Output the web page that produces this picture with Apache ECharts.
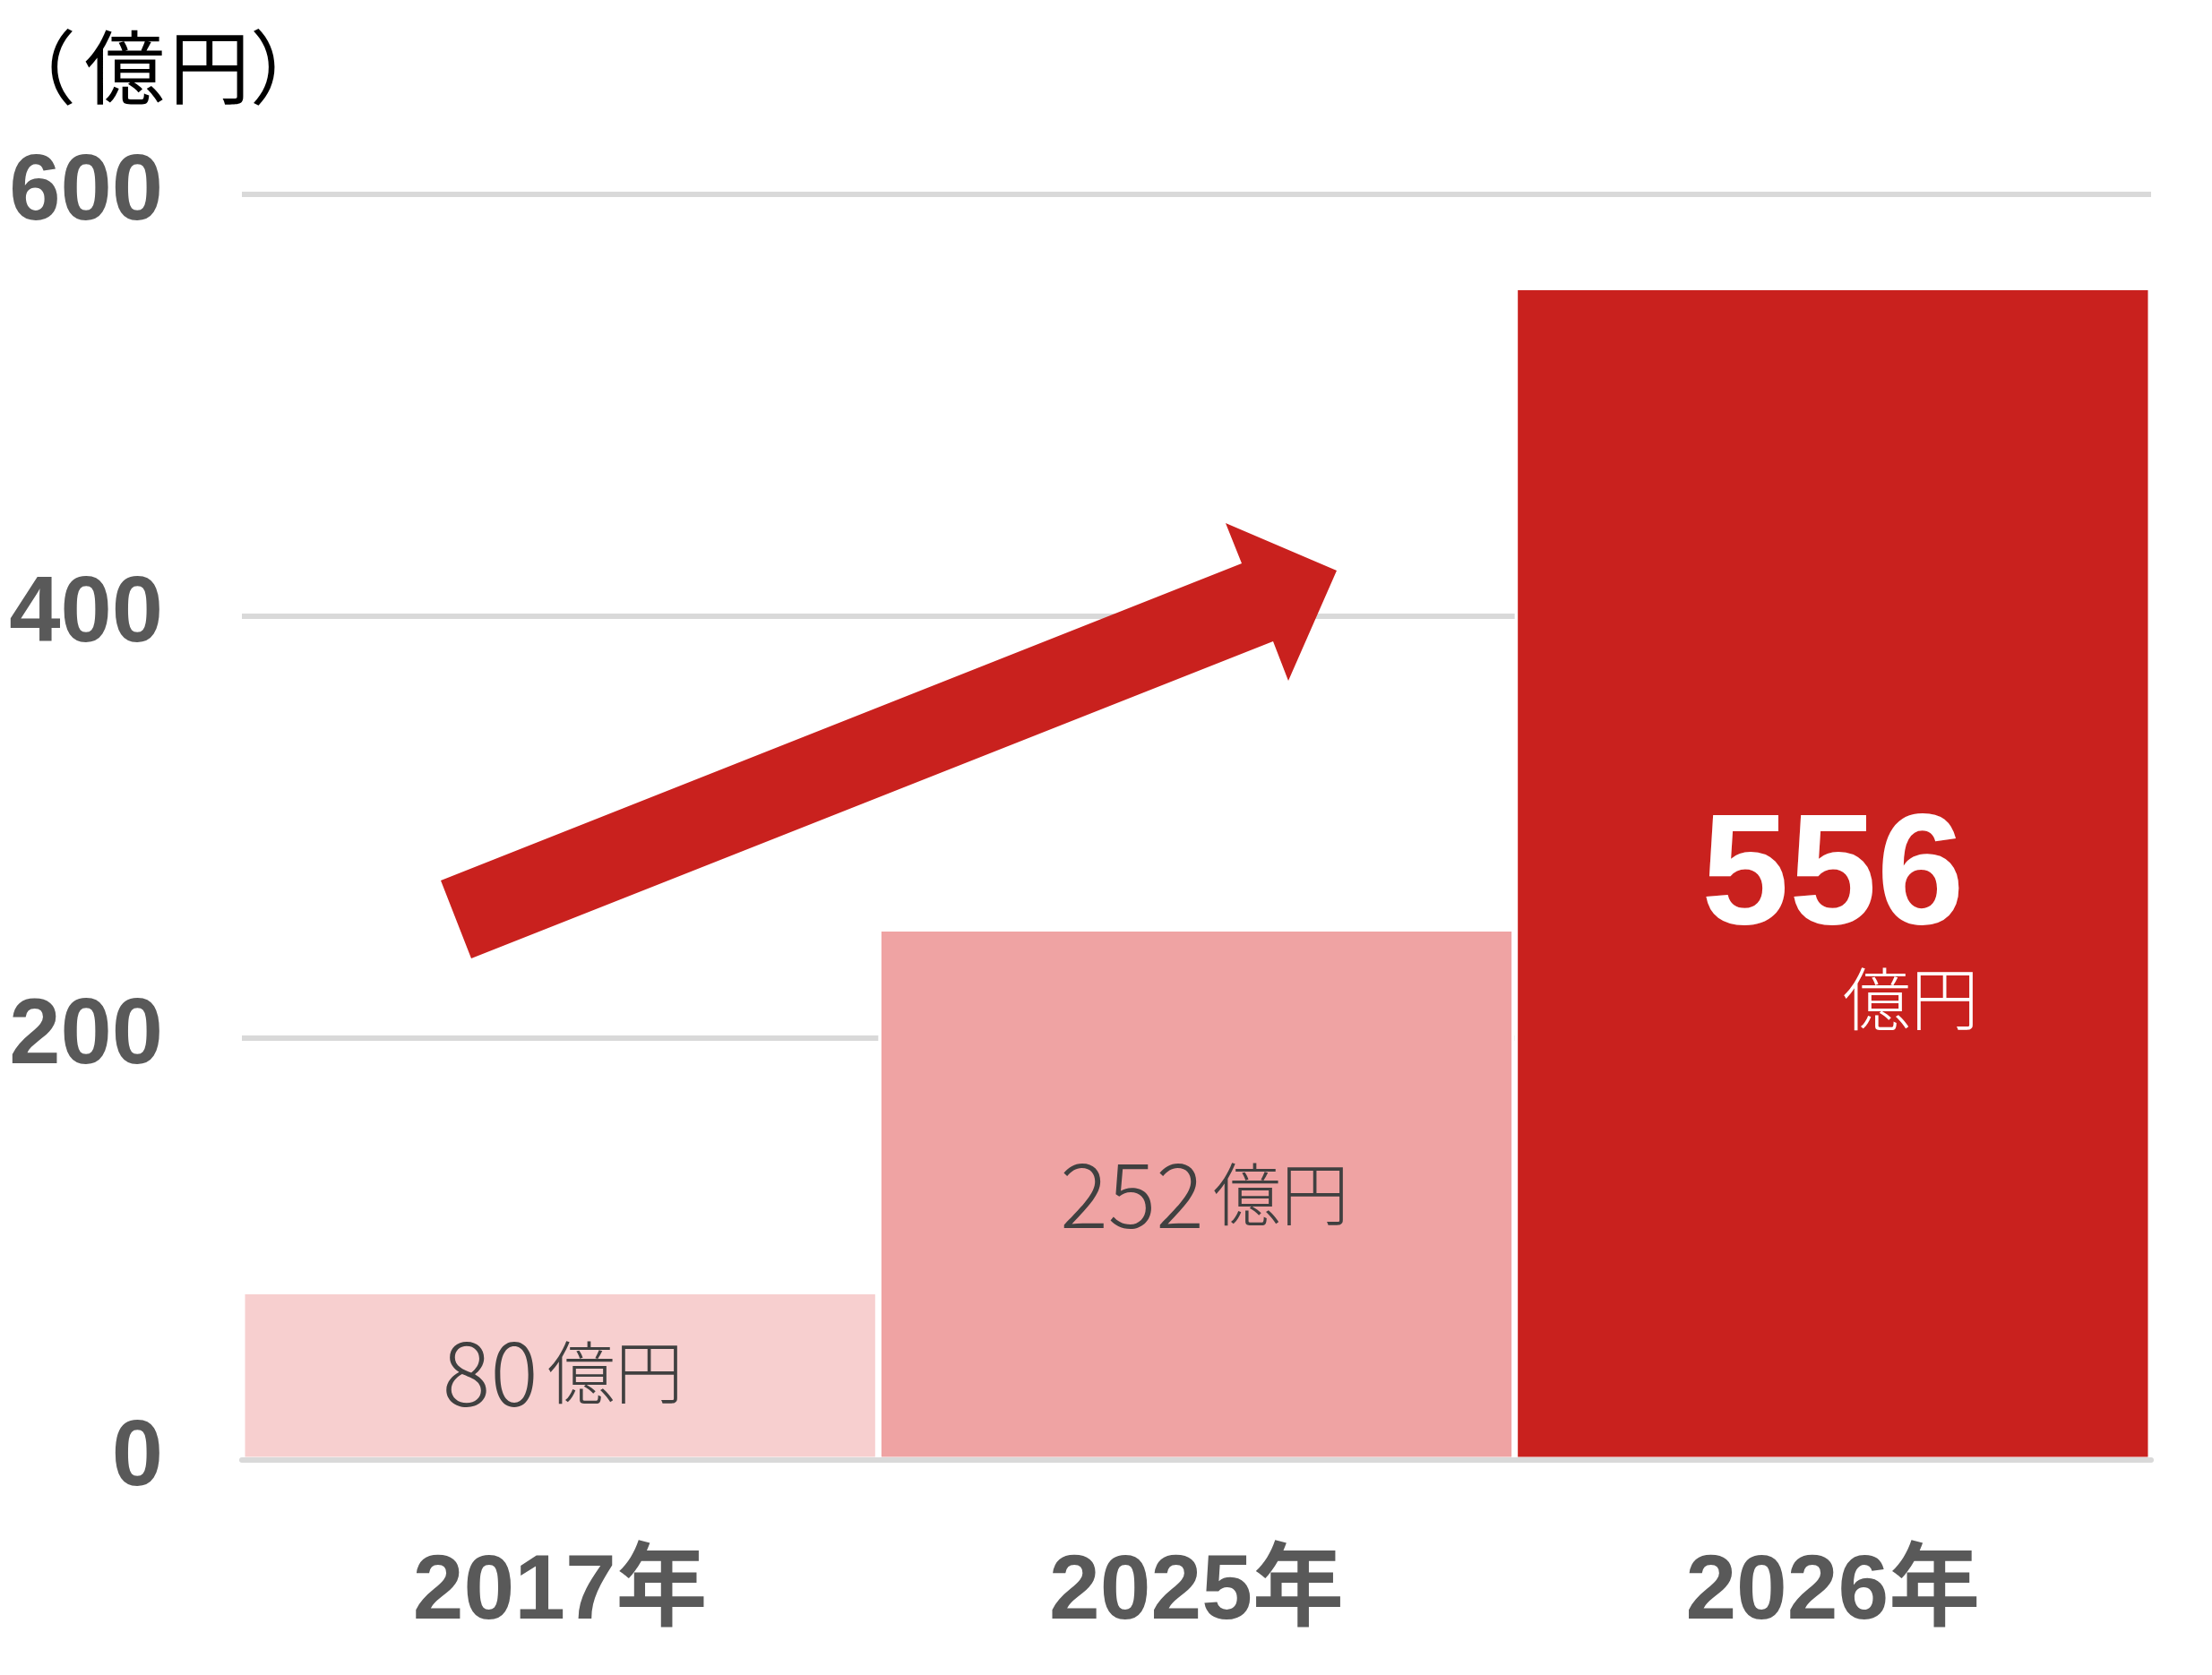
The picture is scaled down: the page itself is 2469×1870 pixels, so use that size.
<!DOCTYPE html>
<html><head><meta charset="utf-8">
<script src="https://cdn.jsdelivr.net/npm/echarts@6/dist/echarts.min.js"></script>
<style>html,body{margin:0;padding:0;background:#fff}#c{width:2469px;height:1870px}</style>
</head><body><div id="c"></div>
<script>
const categories = ['2017年', '2025年', '2026年'];
const values = [80, 252, 556];
const yTicks = [0, 200, 400, 600];
const barColors = ['#F7CFCF', '#EFA3A3', '#C9211E'];
const unitLabel = ['（', '億', '円', '）'];
const valueUnit = '億円';

const NUM = '"Liberation Sans", Arial, "Noto Sans CJK JP", sans-serif';
const CJK = '"Noto Sans CJK JP", "Noto Sans CJK SC", sans-serif';
const chart = echarts.init(document.getElementById('c'), null, { renderer: 'canvas' });

const labelTweaks = [
  { offset: [3, -4] },
  { offset: [9, 0] },
  { offset: [0, 50], formatter: p => '{big|' + p.value + '}\n{uw|' + valueUnit + '}' }
];
const data = values.map((v, i) => ({
  value: v,
  itemStyle: { color: barColors[i] },
  label: labelTweaks[i]
}));

const unitBase = { fontFamily: CJK, fontSize: 90, fontWeight: 'normal', color: '#000000', lineHeight: 90 };

chart.setOption({
  animation: false,
  backgroundColor: '#ffffff',
  title: {
    text: '{p1|' + unitLabel[0] + '}{k1|' + unitLabel[1] + '}{k2|' + unitLabel[2] + '}{p2|' + unitLabel[3] + '}',
    left: -5, top: 30, padding: 0,
    textStyle: {
      fontFamily: CJK, fontSize: 90, fontWeight: 'normal', color: '#000000',
      rich: {
        p1: Object.assign({}, unitBase, { padding: [0, 9, 0, 0] }),
        k1: Object.assign({}, unitBase, { padding: [0, 3, 0, 0] }),
        k2: Object.assign({}, unitBase, { padding: [0, 0, 0, 2] }),
        p2: Object.assign({}, unitBase)
      }
    }
  },
  grid: { left: 270, right: 68, top: 217, bottom: 240, containLabel: false, outerBoundsMode: 'none' },
  xAxis: {
    type: 'category',
    data: categories,
    z: 3,
    axisTick: { show: false },
    axisLine: { show: true, lineStyle: { color: '#D9D9D9', width: 6 } },
    axisLabel: { fontFamily: NUM, fontSize: 102, fontWeight: 'bold', color: '#595959', margin: 98 }
  },
  yAxis: {
    type: 'value',
    min: yTicks[0], max: yTicks[yTicks.length - 1], interval: yTicks[1] - yTicks[0],
    axisLine: { show: false },
    axisTick: { show: false },
    axisLabel: { fontFamily: NUM, fontSize: 103, fontWeight: 'bold', color: '#595959', margin: 88 },
    splitLine: { lineStyle: { color: '#D9D9D9', width: 6 } }
  },
  series: [{
    type: 'bar',
    data: data,
    barWidth: '100%',
    itemStyle: { borderColor: '#ffffff', borderWidth: 3.5 },
    label: {
      show: true,
      position: 'inside',
      formatter: p => '{num|' + p.value + '}{unit|' + valueUnit + '}',
      rich: {
        num: { fontFamily: CJK, fontSize: 100, fontWeight: 300, color: '#404040', lineHeight: 110, padding: [0, 10, 0, 0] },
        unit: { fontFamily: CJK, fontSize: 76, fontWeight: 300, color: '#404040', lineHeight: 110 },
        big: { fontFamily: NUM, fontSize: 176, fontWeight: 'bold', color: '#ffffff', lineHeight: 180, padding: [0, 16, 0, 16] },
        uw: { fontFamily: CJK, fontSize: 76, fontWeight: 300, color: '#ffffff', lineHeight: 86, align: 'right' }
      }
    }
  }],
  graphic: [{
    type: 'polygon',
    z: 10,
    shape: { points: [[492, 983], [1386, 629], [1368, 584], [1492, 637], [1438, 760], [1421, 716], [526, 1070]] },
    style: { fill: '#C9211E' }
  }]
});
</script></body></html>
